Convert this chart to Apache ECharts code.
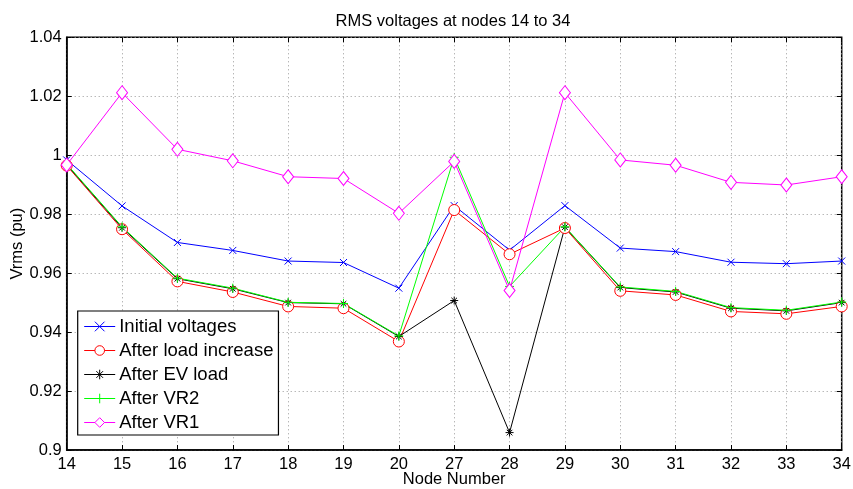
<!DOCTYPE html>
<html>
<head>
<meta charset="utf-8">
<script src="https://cdn.jsdelivr.net/npm/echarts@6/dist/echarts.min.js"></script>
<style>html,body{margin:0;padding:0;background:#fff}#c{width:853px;height:489px}</style>
</head>
<body>
<div id="c"></div>
<script>
const nodes = ['14','15','16','17','18','19','20','27','28','29','30','31','32','33','34'];
const initialVoltages = [0.9984,0.9828,0.9704,0.9677,0.9641,0.9636,0.9549,0.9829,0.9678,0.9829,0.9685,0.9673,0.9637,0.9632,0.9641];
const afterLoadIncrease = [0.9965,0.9749,0.9572,0.9536,0.9487,0.9481,0.9368,0.9814,0.9664,0.9753,0.9540,0.9526,0.9470,0.9462,0.9487];
const afterEVLoad = [0.9968,0.9754,0.9581,0.9547,0.9500,0.9496,0.9385,0.9507,0.9059,0.9756,0.9551,0.9536,0.9481,0.9472,0.9500];
const afterVR2 = [0.9970,0.9757,0.9583,0.9549,0.9501,0.9497,0.9387,0.9993,0.9555,0.9757,0.9553,0.9538,0.9483,0.9474,0.9502];
const afterVR1 = [0.9967,1.0212,1.0020,0.9981,0.9927,0.9921,0.9803,0.9979,0.9541,1.0212,0.9984,0.9966,0.9908,0.9899,0.9927];
const yTicks = {min:0.9, max:1.04, step:0.02};

const FONT = 'Liberation Sans, Arial, Helvetica, sans-serif';
const SYM = {
  x: 'path://M0,0L10,10M10,0L0,10',
  star: 'path://M5,0L5,10M0,5L10,5M1.5,1.5L8.5,8.5M8.5,1.5L1.5,8.5',
  plus: 'path://M5,0L5,10M0,5L10,5'
};
function mk(name, data, color, symbol, size, empty) {
  return {
    name, type:'line', data, symbol, symbolSize:size,
    showAllSymbol:true,
    lineStyle:{color, width:1},
    itemStyle:{color: empty ? '#fff' : color, borderColor:color, borderWidth:1},
    emphasis:{disabled:true},
    animation:false
  };
}
const chart = echarts.init(document.getElementById('c'), null, {renderer:'canvas'});
chart.setOption({
  backgroundColor:'#fff',
  animation:false,
  textStyle:{fontFamily:FONT},
  title:{
    text:'RMS voltages at nodes 14 to 34', left:448, top:8, textAlign:'center',
    textStyle:{fontFamily:FONT, fontSize:16.5, fontWeight:'normal', color:'#000'}
  },
  grid:{left:66.7, right:11.3, top:37.3, bottom:39, containLabel:false, outerBoundsMode:'none',
        show:true, borderColor:'#000', borderWidth:1.5, backgroundColor:'transparent'},
  legend:{
    orient:'vertical', left:77.7, top:311,
    backgroundColor:'#fff', borderColor:'#000', borderWidth:1.2,
    padding:[6,5,3,6], itemGap:5, itemWidth:31, itemHeight:12,
    lineStyle:{width:1},
    itemStyle:{borderWidth:1},
    textStyle:{fontFamily:FONT, fontSize:18.5, lineHeight:18, color:'#000', padding:[0,0,0,-1]},
    data:['Initial voltages','After load increase','After EV load','After VR2','After VR1']
  },
  xAxis:[{
    type:'category', data:nodes, boundaryGap:false,
    name:'Node Number', nameLocation:'middle', nameGap:21, nameMoveOverlap:false,
    nameTextStyle:{fontFamily:FONT, fontSize:16.5, color:'#000'},
    axisLine:{show:true, lineStyle:{color:'#000', width:1.5}},
    axisTick:{show:true, inside:true, length:5, alignWithLabel:true, lineStyle:{color:'#000'}},
    axisLabel:{fontFamily:FONT, fontSize:16.5, color:'#000', margin:6},
    splitLine:{show:true, lineStyle:{color:'#999', type:[1,3], width:1}}
  },{
    type:'category', data:nodes, boundaryGap:false, position:'top',
    axisLine:{show:false}, axisTick:{show:true, inside:true, length:5, lineStyle:{color:'#000'}},
    axisLabel:{show:false}, splitLine:{show:false}
  }],
  yAxis:[{
    type:'value', min:yTicks.min, max:yTicks.max, interval:yTicks.step,
    name:'Vrms (pu)', nameLocation:'middle', nameGap:41, nameRotate:90, nameMoveOverlap:false,
    nameTextStyle:{fontFamily:FONT, fontSize:16.5, color:'#000'},
    axisLine:{show:true, lineStyle:{color:'#000', width:1.5}},
    axisTick:{show:true, inside:true, length:5, lineStyle:{color:'#000'}},
    axisLabel:{fontFamily:FONT, fontSize:16.5, color:'#000', margin:5, formatter:v=>String(+v.toFixed(2))},
    splitLine:{show:true, lineStyle:{color:'#999', type:[1,3], width:1}}
  },{
    type:'value', min:yTicks.min, max:yTicks.max, interval:yTicks.step, position:'right',
    axisLine:{show:false}, axisTick:{show:true, inside:true, length:5, lineStyle:{color:'#000'}},
    axisLabel:{show:false}, splitLine:{show:false}
  }],
  series:[
    mk('Initial voltages', initialVoltages, '#0000ff', SYM.x, 7, false),
    mk('After load increase', afterLoadIncrease, '#ff0000', 'circle', 11, true),
    mk('After EV load', afterEVLoad, '#000000', SYM.star, 8, false),
    mk('After VR2', afterVR2, '#00ff00', SYM.plus, 9, false),
    mk('After VR1', afterVR1, '#ff00ff', 'diamond', [11,14], true)
  ]
});
</script>
</body>
</html>
